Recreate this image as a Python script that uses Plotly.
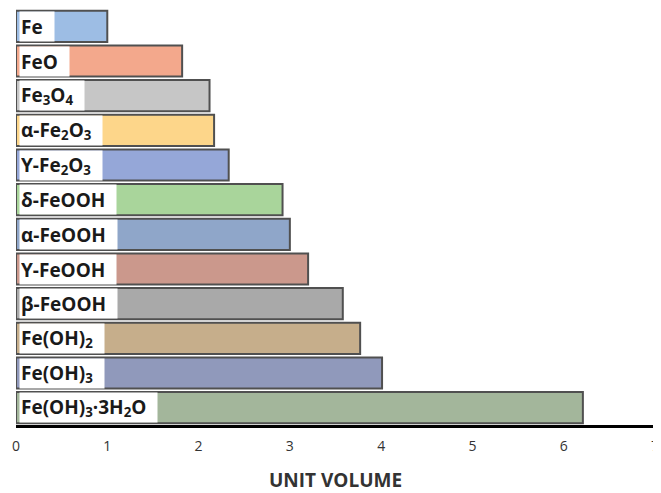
import plotly.graph_objects as go

labels = ["Fe", "FeO", "Fe<sub>3</sub>O<sub>4</sub>", "α-Fe<sub>2</sub>O<sub>3</sub>",
          "Υ-Fe<sub>2</sub>O<sub>3</sub>", "δ-FeOOH", "α-FeOOH", "Υ-FeOOH", "β-FeOOH",
          "Fe(OH)<sub>2</sub>", "Fe(OH)<sub>3</sub>", "Fe(OH)<sub>3</sub>·3H<sub>2</sub>O"]
keys = ["Fe", "FeO", "Fe3O4", "a-Fe2O3", "g-Fe2O3", "d-FeOOH", "a-FeOOH", "g-FeOOH",
        "b-FeOOH", "Fe(OH)2", "Fe(OH)3", "Fe(OH)3.3H2O"]
values = [1.0, 1.82, 2.12, 2.17, 2.33, 2.92, 3.0, 3.2, 3.58, 3.77, 4.01, 6.21]
colors = ["#9dbde4", "#f3a88c", "#c6c6c6", "#fdd68a", "#95a7d8", "#a9d59b",
          "#8fa6c9", "#cb988c", "#a9a9a9", "#c6ae8b", "#9099bb", "#a3b69b"]
x_ticks = [0, 1, 2, 3, 4, 5, 6, 7]

fig = go.Figure()
fig.add_trace(go.Bar(
    x=values, y=keys, orientation="h",
    marker=dict(color=colors, line=dict(color="#505050", width=2)),
    hoverinfo="x",
))

for k, lab in zip(keys, labels):
    fig.add_annotation(
        x=0.03, y=k, xref="x", yref="y", xanchor="left", yanchor="middle",
        text=lab + "&nbsp;&nbsp;", showarrow=False, align="left",
        bgcolor="white", borderpad=1, height=27,
        font=dict(family="Open Sans", size=19, color="#1a1a1a", weight="bold"),
    )

fig.update_layout(
    width=653, height=485,
    margin=dict(l=8, r=6, t=1, b=68),
    plot_bgcolor="white", paper_bgcolor="white",
    bargap=0.1, showlegend=False,
    xaxis=dict(range=[0, 7], tickvals=x_ticks, showgrid=False, zeroline=False,
               showline=True, linecolor="black", linewidth=3, automargin=False,
               tickfont=dict(family="Open Sans", size=14, color="#333333"),
               ticks="", ticklen=0, ticklabelstandoff=6, ticklabeloverflow="allow",
               title=dict(text="<b>UNIT VOLUME</b>", standoff=22,
                          font=dict(family="Open Sans", size=19, color="#333333"))),
    yaxis=dict(autorange="reversed", showticklabels=False, showgrid=False,
               zeroline=False, showline=False, ticks="", automargin=False),
)

fig.write_html("out.html")
